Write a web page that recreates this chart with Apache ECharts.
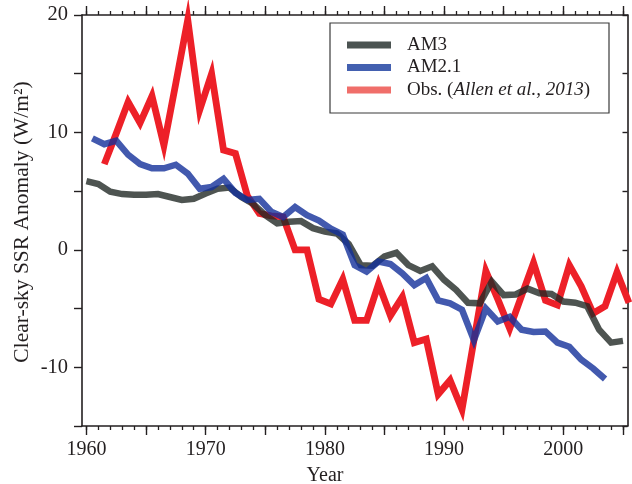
<!DOCTYPE html>
<html>
<head>
<meta charset="utf-8">
<script src="https://cdn.jsdelivr.net/npm/echarts@6/dist/echarts.min.js"></script>
<style>
  html, body { margin: 0; padding: 0; background: #fff; }
  #chart { width: 632px; height: 484px; }
</style>
</head>
<body>
<div id="chart"></div>
<script>
// Annual clear-sky surface solar radiation anomalies (W/m2)
const am3Years = [1960,1961,1962,1963,1964,1965,1966,1967,1968,1969,1970,1971,1972,1973,1974,1975,1976,1977,1978,1979,1980,1981,1982,1983,1984,1985,1986,1987,1988,1989,1990,1991,1992,1993,1994,1995,1996,1997,1998,1999,2000,2001,2002,2003,2004,2005];
const am3Values = [5.85,5.6,4.95,4.75,4.7,4.7,4.75,4.5,4.25,4.35,4.8,5.2,5.3,4.5,3.9,2.95,2.25,2.4,2.45,1.85,1.55,1.4,0.5,-1.3,-1.35,-0.55,-0.25,-1.3,-1.8,-1.4,-2.55,-3.4,-4.5,-4.55,-2.7,-3.85,-3.8,-3.3,-3.7,-3.75,-4.4,-4.5,-4.8,-6.8,-7.9,-7.75];

const am21Years = [1960,1961,1962,1963,1964,1965,1966,1967,1968,1969,1970,1971,1972,1973,1974,1975,1976,1977,1978,1979,1980,1981,1982,1983,1984,1985,1986,1987,1988,1989,1990,1991,1992,1993,1994,1995,1996,1997,1998,1999,2000,2001,2002,2003];
const am21Values = [9.5,9.0,9.3,8.1,7.3,6.95,6.95,7.25,6.5,5.2,5.35,6.05,4.85,4.25,4.35,3.25,2.8,3.65,2.95,2.5,1.8,1.3,-1.3,-1.85,-1.0,-1.2,-2.0,-3.0,-2.4,-4.3,-4.55,-5.1,-7.7,-5.0,-6.1,-5.7,-6.8,-7.0,-6.95,-7.9,-8.25,-9.35,-10.1,-11.0];

const obsYears = [1961,1962,1963,1964,1965,1966,1967,1968,1969,1970,1971,1972,1973,1974,1975,1976,1977,1978,1979,1980,1981,1982,1983,1984,1985,1986,1987,1988,1989,1990,1991,1992,1993,1994,1995,1996,1997,1998,1999,2000,2001,2002,2003,2004,2005];
const obsValues = [7.3,9.9,12.6,10.8,13.1,8.9,14.2,19.6,11.9,15.0,8.5,8.2,4.6,3.1,2.9,2.8,0.0,0.0,-4.2,-4.6,-2.5,-6.0,-6.0,-2.9,-5.6,-4.0,-7.9,-7.6,-12.3,-11.1,-13.6,-7.7,-1.8,-4.2,-6.7,-3.9,-1.1,-4.3,-4.7,-1.3,-3.1,-5.4,-4.8,-1.9,-4.5];

// Axis ticks and labels
const yearLabels = [1960, 1970, 1980, 1990, 2000];
const yearMajorTicks = [1960, 1965, 1970, 1975, 1980, 1985, 1990, 1995, 2000, 2005];
const yearMinorTicks = [1960,1961,1962,1963,1964,1965,1966,1967,1968,1969,1970,1971,1972,1973,1974,1975,1976,1977,1978,1979,1980,1981,1982,1983,1984,1985,1986,1987,1988,1989,1990,1991,1992,1993,1994,1995,1996,1997,1998,1999,2000,2001,2002,2003,2004,2005];

const seriesNames = ['AM3', 'AM2.1', 'Obs. (Allen et al., 2013)'];

// Model runs are stamped at the start of the year, AM2.1 and observations at mid-year
const MID_YEAR = 0.5;
const pairs = (years, values, shift) => years.map((y, i) => [y + shift, values[i]]);

const INK = '#231f20';
const FONT = "'Liberation Serif', 'Times New Roman', serif";
const X_MIN = 1959.63, X_MAX = 2005.38;

const chart = echarts.init(document.getElementById('chart'), null, { renderer: 'canvas' });

const xBase = {
  type: 'value', min: X_MIN, max: X_MAX,
  splitLine: { show: false },
  axisLabel: { show: false }
};

const option = {
  animation: false,
  backgroundColor: '#fff',
  grid: { left: 82, right: 4.5, top: 15, bottom: 58, containLabel: false },
  xAxis: [
    Object.assign({}, xBase, {
      position: 'bottom',
      axisLine: { show: true, onZero: false, lineStyle: { color: INK, width: 1.6 } },
      axisTick: { show: true, customValues: yearMajorTicks, length: 9, lineStyle: { color: INK, width: 1.4 } },
      axisLabel: {
        show: true, customValues: yearLabels, margin: 14, color: INK, fontSize: 20, fontFamily: FONT,
        formatter: v => String(v)
      }
    }),
    Object.assign({}, xBase, {
      position: 'bottom',
      axisLine: { show: false, onZero: false },
      axisTick: { show: true, customValues: yearMinorTicks, length: 4, lineStyle: { color: INK, width: 1.3 } }
    }),
    Object.assign({}, xBase, {
      position: 'top',
      axisLine: { show: true, onZero: false, lineStyle: { color: INK, width: 1.6 } },
      axisTick: { show: true, customValues: yearMajorTicks, length: 9, lineStyle: { color: INK, width: 1.4 } }
    }),
    Object.assign({}, xBase, {
      position: 'top',
      axisLine: { show: false, onZero: false },
      axisTick: { show: true, customValues: yearMinorTicks, length: 4, lineStyle: { color: INK, width: 1.3 } }
    })
  ],
  yAxis: [
    {
      type: 'value', position: 'left', min: -15, max: 20, interval: 5,
      splitLine: { show: false },
      axisLine: { show: true, onZero: false, lineStyle: { color: INK, width: 1.6 } },
      axisTick: { show: true, length: 8, lineStyle: { color: INK, width: 1.4 } },
      axisLabel: {
        margin: 14, color: INK, fontSize: 20.5, fontFamily: FONT,
        formatter: v => (v % 10 === 0 ? String(v) : '')
      }
    },
    {
      type: 'value', position: 'right', min: -15, max: 20, interval: 5,
      splitLine: { show: false },
      axisLine: { show: true, onZero: false, lineStyle: { color: INK, width: 1.6 } },
      axisTick: { show: true, inside: true, length: 5, lineStyle: { color: INK, width: 1.4 } },
      axisLabel: { show: false }
    }
  ],
  legend: {
    show: true,
    orient: 'vertical',
    left: 347, top: 33.75,
    padding: 0,
    itemGap: 0,
    itemWidth: 44, itemHeight: 7,
    icon: 'rect',
    selectedMode: false,
    itemStyle: { borderWidth: 0 },
    textStyle: {
      color: INK, fontSize: 19, fontFamily: FONT, lineHeight: 22.5,
      padding: [0, 0, 0, 11],
      rich: { i: { fontStyle: 'italic', fontSize: 19, fontFamily: FONT, color: INK, lineHeight: 22.5 } }
    },
    formatter: name => name.startsWith('Obs.') ? 'Obs. ({i|Allen et al., 2013})' : name,
    data: [
      { name: seriesNames[0], itemStyle: { color: '#4b5351' } },
      { name: seriesNames[1], itemStyle: { color: '#4360b0' } },
      { name: seriesNames[2], itemStyle: { color: '#f06e6a' } }
    ]
  },
  graphic: [
    {
      type: 'rect', z: 100,
      shape: { x: 330, y: 23, width: 279, height: 90 },
      style: { fill: null, stroke: '#3a3a3a', lineWidth: 1.2 }
    },
    {
      type: 'text', z: 100,
      x: 22, y: 222, rotation: Math.PI / 2,
      style: {
        text: 'Clear-sky SSR Anomaly (W/m²)',
        fill: INK, font: "21.5px 'Liberation Serif', 'Times New Roman', serif",
        align: 'center', verticalAlign: 'middle'
      }
    },
    {
      type: 'text', z: 100,
      x: 325, y: 476,
      style: {
        text: 'Year',
        fill: INK, font: "20px 'Liberation Serif', 'Times New Roman', serif",
        align: 'center', verticalAlign: 'middle'
      }
    }
  ],
  series: [
    {
      name: seriesNames[2], type: 'line', xAxisIndex: 0, yAxisIndex: 0,
      data: pairs(obsYears, obsValues, MID_YEAR),
      showSymbol: false, symbol: 'none', clip: false, z: 2,
      itemStyle: { color: '#f06e6a' },
      lineStyle: { color: '#ed2028', width: 6.8, join: 'miter', miterLimit: 10, cap: 'butt' }
    },
    {
      name: seriesNames[0], type: 'line', xAxisIndex: 0, yAxisIndex: 0,
      data: pairs(am3Years, am3Values, 0),
      showSymbol: false, symbol: 'none', clip: false, z: 3,
      itemStyle: { color: '#4b5351' },
      lineStyle: { color: '#222926', opacity: 0.8, width: 6.5, join: 'miter', miterLimit: 10, cap: 'butt' }
    },
    {
      name: seriesNames[1], type: 'line', xAxisIndex: 0, yAxisIndex: 0,
      data: pairs(am21Years, am21Values, MID_YEAR),
      showSymbol: false, symbol: 'none', clip: false, z: 4,
      itemStyle: { color: '#4360b0' },
      lineStyle: { color: '#13309a', opacity: 0.8, width: 6.5, join: 'miter', miterLimit: 10, cap: 'butt' }
    }
  ]
};

chart.setOption(option);
</script>
</body>
</html>
